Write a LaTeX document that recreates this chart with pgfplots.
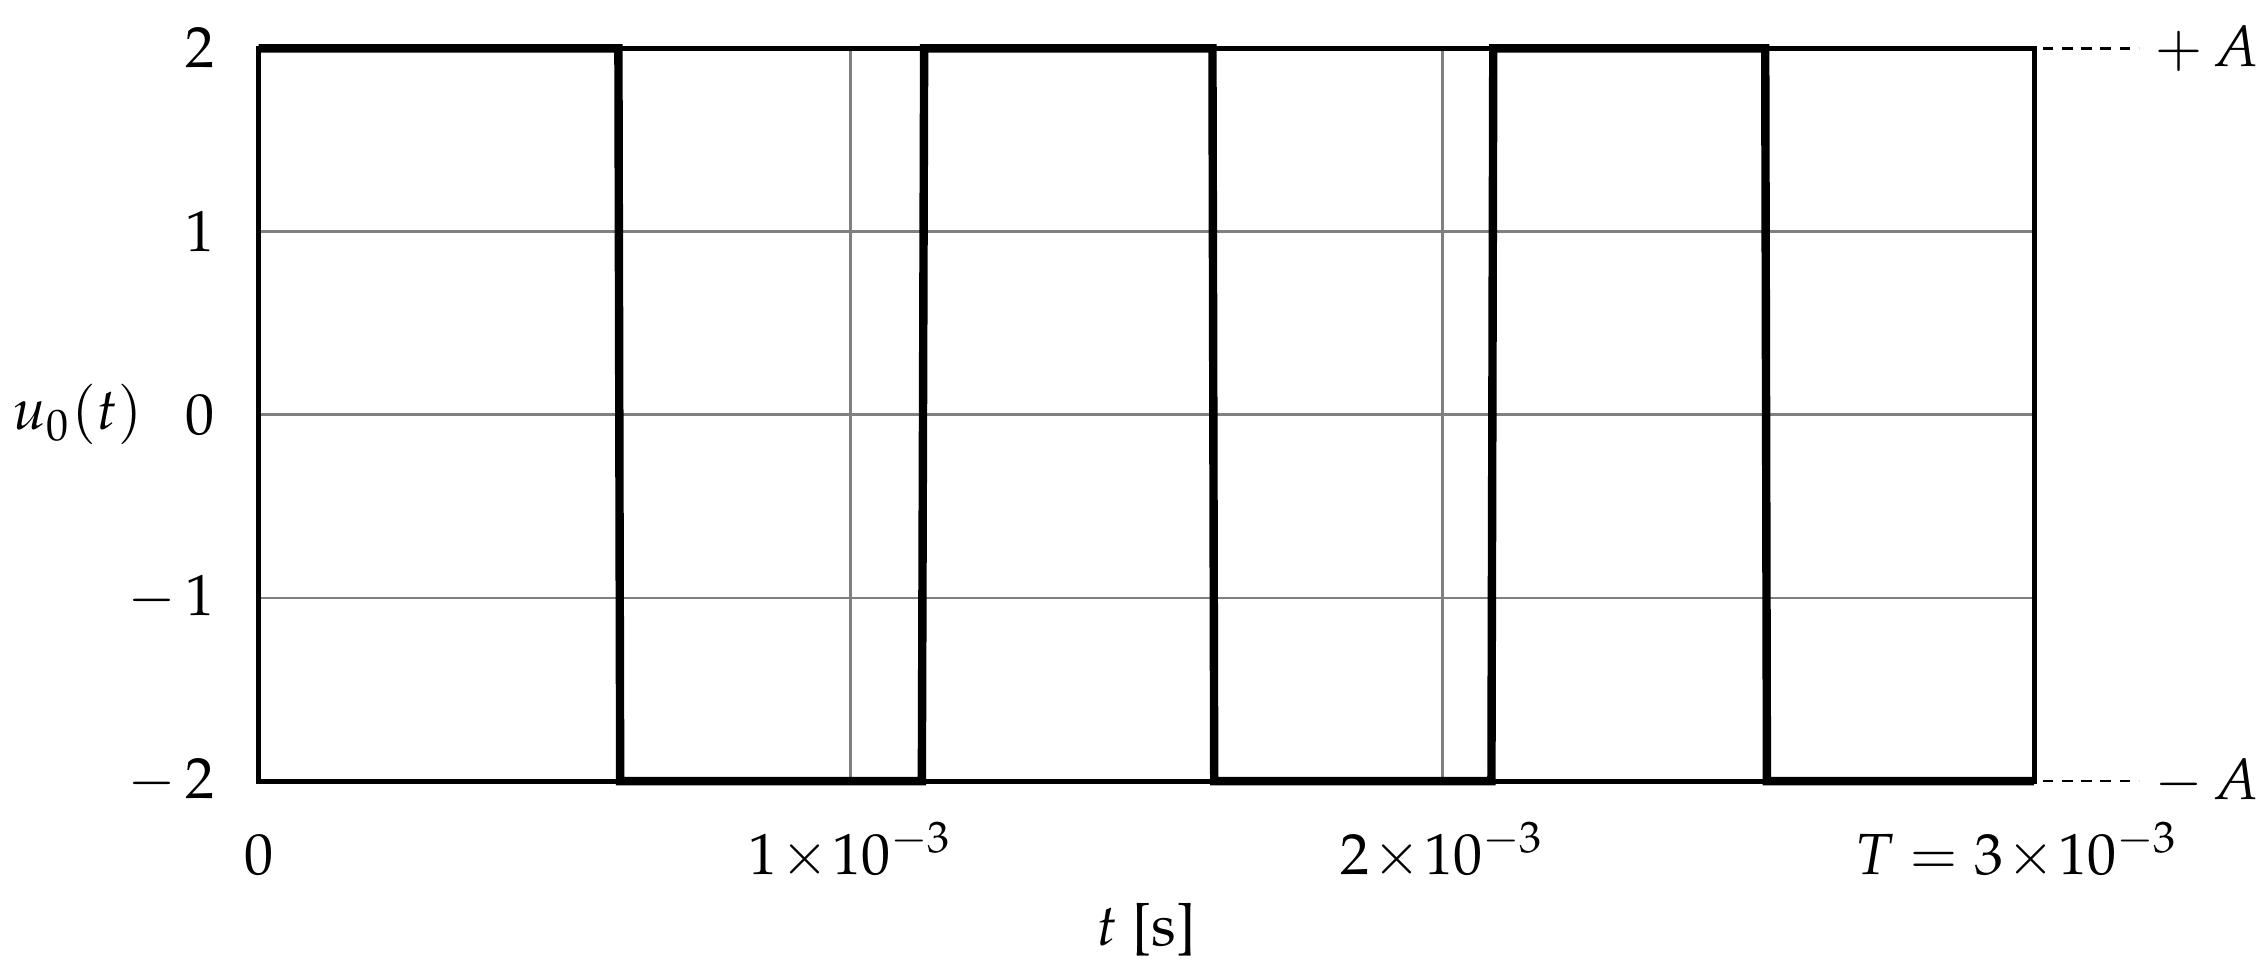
\documentclass[border=0pt]{standalone}
\usepackage[T1]{fontenc}
\usepackage{mathpazo}
\usepackage{pgfplots}
\pgfplotsset{compat=1.18}

\newcommand{\tx}{\mkern1mu{\times}\mkern1mu}

\begin{document}
\begin{tikzpicture}
\begin{axis}[
    scale only axis,
    width=306pt,
    height=126.3pt,
    xmin=0, xmax=3e-3,
    ymin=-2, ymax=2,
    xtick={0,1e-3,2e-3,3e-3},
    xticklabels={$0$, $1\tx 10^{-3}$, $2\tx 10^{-3}$, $T=3\tx 10^{-3}\kern6pt$},
    scaled x ticks=false,
    ytick={-2,-1,0,1,2},
    yticklabels={$-\,2$, $-\,1$, $0$, $1$, $2$},
    major tick length=0pt,
    grid=major,
    grid style={color=black!50, line width=0.45pt},
    axis line style={line width=0.85pt},
    clip=false,
    xticklabel style={anchor=base, yshift=-16pt},
    yticklabel style={xshift=-4pt},
    xlabel={$t$ [s]},
    every axis x label/.style={at={(axis description cs:0.5,0)}, anchor=base, yshift=-28.4pt},
    ylabel={$u_0(t)$},
    every axis y label/.style={at={(axis description cs:0,0.5)}, anchor=east, xshift=-16.5pt},
]

% square wave
\addplot[black, line width=1.45pt, line join=miter] coordinates {
    (0, 2)
    (0.6078e-3, 2)
    (0.6108e-3, -2)
    (1.1205e-3, -2)
    (1.1244e-3, 2)
    (1.6115e-3, 2)
    (1.6145e-3, -2)
    (2.0829e-3, -2)
    (2.0860e-3, 2)
    (2.5455e-3, 2)
    (2.5484e-3, -2)
    (3e-3, -2)
};

\coordinate (tr) at (rel axis cs:1,1);
\coordinate (br) at (rel axis cs:1,0);
\coordinate (ll) at (rel axis cs:-0.1457,-0.263);
\coordinate (ur) at (rel axis cs:1.130,1.066);
\end{axis}

% amplitude markers on the right
\draw[line width=0.45pt, dash pattern=on 1.8pt off 1.5pt]
    ([xshift=1.5pt]tr) -- ++(16.5pt,0pt)
    node[anchor=west, xshift=-0.8pt] {$+\,A$};
\draw[line width=0.45pt, dash pattern=on 1.8pt off 1.5pt]
    ([xshift=1.5pt]br) -- ++(16.5pt,0pt)
    node[anchor=west, xshift=-0.8pt] {$-\,A$};

% page size
\pgfresetboundingbox
\useasboundingbox (ll) rectangle (ur);
\end{tikzpicture}
\end{document}
